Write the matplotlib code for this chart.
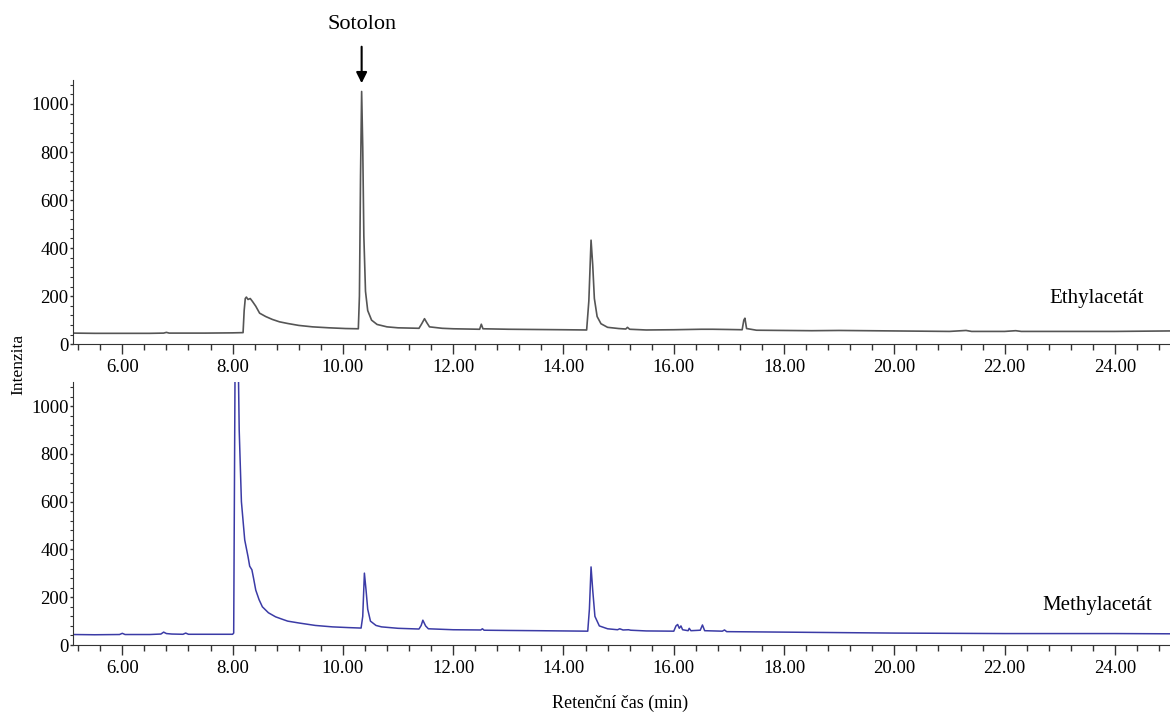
import matplotlib.pyplot as plt
from matplotlib.ticker import MultipleLocator, FormatStrFormatter

plt.rcParams['font.family'] = ['Liberation Serif', 'DejaVu Serif']

# Ethylacetat trace (time min, intensity)
ea_t = [5.10, 5.50, 6.00, 6.50, 6.75, 6.80, 6.85, 7.50, 8.00, 8.19, 8.21, 8.23, 8.25,
        8.28, 8.32, 8.36, 8.42, 8.49, 8.60, 8.72, 8.85, 9.00, 9.20, 9.45, 9.75,
        10.05, 10.28, 10.30, 10.32, 10.34, 10.36, 10.38, 10.41, 10.45, 10.52,
        10.62, 10.80, 11.00, 11.38, 11.43, 11.48, 11.52, 11.57, 11.80, 12.00,
        12.48, 12.51, 12.54, 13.00, 13.50, 14.00, 14.42, 14.46, 14.50, 14.53,
        14.56, 14.61, 14.68, 14.80, 15.00, 15.13, 15.16, 15.20, 15.50, 16.00,
        16.50, 16.70, 17.00, 17.24, 17.27, 17.29, 17.32, 17.50, 18.00, 18.50,
        19.00, 20.00, 21.00, 21.30, 21.40, 22.00, 22.20, 22.30, 23.00, 24.00, 25.00]
ea_y = [46, 45, 45, 45, 46, 49, 46, 46, 47, 48, 140, 190, 196,
        186, 190, 178, 158, 129, 115, 103, 93, 86, 78, 72, 68,
        65, 64, 200, 700, 1052, 820, 450, 220, 140, 100,
        82, 72, 68, 66, 85, 106, 90, 72, 66, 64,
        62, 83, 64, 62, 61, 60, 59, 180, 433, 330,
        190, 115, 85, 70, 65, 63, 70, 62, 59, 60,
        62, 62, 61, 60, 100, 108, 65, 58, 57, 56,
        57, 55, 53, 57, 53, 53, 56, 53, 53, 53, 55]

# Methylacetat trace
ma_t = [5.10, 5.50, 5.95, 6.00, 6.05, 6.50, 6.70, 6.75, 6.80, 6.90, 7.10, 7.15, 7.20,
        7.60, 8.00, 8.02, 8.05, 8.09, 8.12, 8.16, 8.22, 8.28, 8.31, 8.35, 8.38,
        8.42, 8.48, 8.54, 8.65, 8.78, 8.90, 9.00, 9.21, 9.50, 9.81, 10.10, 10.33,
        10.36, 10.39, 10.42, 10.45, 10.50, 10.60, 10.70, 11.00, 11.38, 11.42,
        11.45, 11.50, 11.55, 12.00, 12.50, 12.53, 12.56, 13.00, 13.55, 14.00,
        14.44, 14.47, 14.50, 14.53, 14.57, 14.65, 14.80, 14.98, 15.02, 15.08,
        15.18, 15.22, 15.50, 16.00, 16.04, 16.07, 16.10, 16.13, 16.16, 16.26,
        16.28, 16.31, 16.48, 16.52, 16.56, 16.88, 16.92, 16.96, 17.50, 18.00,
        19.00, 20.00, 21.00, 22.00, 23.00, 24.00, 25.00]
ma_y = [44, 43, 44, 49, 44, 44, 46, 54, 48, 46, 45, 50, 45,
        45, 45, 50, 1400, 1400, 900, 600, 440, 370, 330, 315, 280,
        230, 190, 160, 135, 118, 108, 100, 92, 82, 76, 73, 71,
        120, 301, 230, 150, 100, 82, 76, 70, 67, 82,
        104, 80, 68, 64, 63, 68, 62, 61, 60, 59,
        58, 150, 327, 230, 120, 80, 68, 64, 68, 63,
        64, 62, 59, 58, 80, 86, 70, 80, 64, 60,
        70, 60, 62, 84, 60, 58, 63, 56, 55, 54,
        52, 50, 49, 48, 48, 48, 47]

fig = plt.figure(figsize=(11.7, 7.14), dpi=100)
ax1 = fig.add_axes([0.0621, 0.518, 0.938, 0.370])
ax2 = fig.add_axes([0.0621, 0.0966, 0.938, 0.368])

for ax in (ax1, ax2):
    ax.set_xlim(5.1, 25.0)
    ax.set_ylim(0, 1100)
    ax.spines['top'].set_visible(False)
    ax.spines['right'].set_visible(False)
    ax.spines['left'].set_color('#333333')
    ax.spines['bottom'].set_color('#333333')
    ax.xaxis.set_major_locator(MultipleLocator(2))
    ax.xaxis.set_minor_locator(MultipleLocator(0.4))
    ax.xaxis.set_major_formatter(FormatStrFormatter('%.2f'))
    ax.yaxis.set_major_locator(MultipleLocator(200))
    ax.yaxis.set_minor_locator(MultipleLocator(40))
    ax.tick_params(axis='x', which='major', length=7, width=1, pad=4, labelsize=13.5, color='#333333')
    ax.tick_params(axis='x', which='minor', length=4, width=1, color='#333333')
    ax.tick_params(axis='y', which='major', length=2, width=1, pad=1, labelsize=13.5, color='#333333')
    ax.tick_params(axis='y', which='minor', length=2, width=0.8, color='#333333')

ax1.plot(ea_t, ea_y, color='#555555', lw=1.2)
ax2.plot(ma_t, ma_y, color='#3b3ba6', lw=1.1)

ax1.text(23.67, 190, 'Ethylacetát', ha='center', va='center', fontsize=15)
ax2.text(23.67, 167, 'Methylacetát', ha='center', va='center', fontsize=15)

ax1.annotate('', xy=(10.34, 1075), xytext=(10.34, 1250), annotation_clip=False,
             arrowprops=dict(arrowstyle='-|>', color='black', lw=1.5, mutation_scale=16))
ax1.text(10.34, 1290, 'Sotolon', ha='center', va='bottom', fontsize=16)

fig.text(0.016, 0.49, 'Intenzita', rotation=90, ha='center', va='center', fontsize=12.5)
fig.text(0.53, 0.015, 'Retenční čas (min)', ha='center', va='center', fontsize=13)

fig.savefig('out.png', dpi=100)
